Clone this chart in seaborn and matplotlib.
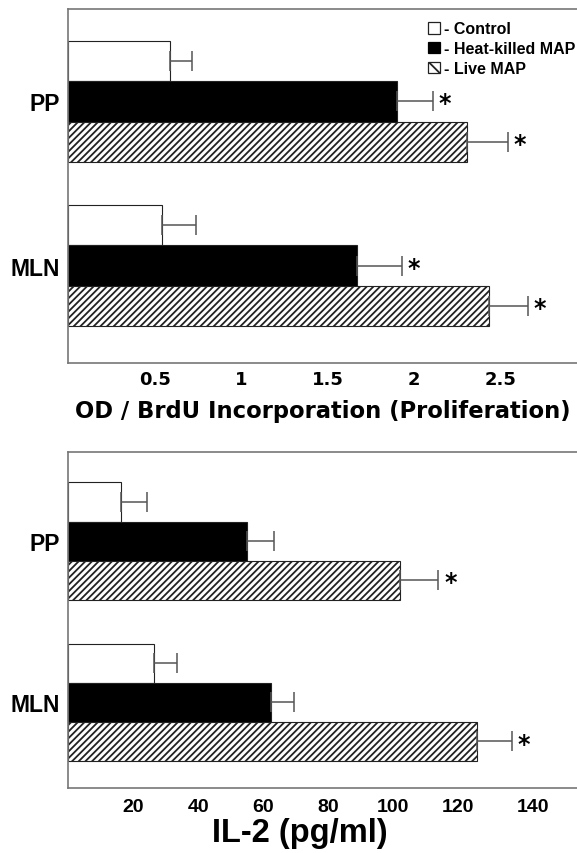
import numpy as np
import pandas as pd
import matplotlib
matplotlib.use("Agg")
import matplotlib.pyplot as plt
import seaborn as sns
from matplotlib.patches import Patch
from matplotlib.font_manager import FontProperties

# ---------------- data ----------------
tissues = ["PP", "MLN"]
treatments = ["Control", "Heat-killed MAP", "Live MAP"]
legend_labels = ["- Control", "- Heat-killed MAP", "- Live MAP"]

# Proliferation (OD / BrdU incorporation)
prolif_control = [0.59, 0.543]
prolif_heat = [1.90, 1.667]
prolif_live = [2.306, 2.43]
prolif_err_control = [0.124, 0.194]
prolif_err_heat = [0.206, 0.262]
prolif_err_live = [0.234, 0.226]
prolif_sig_control = [False, False]
prolif_sig_heat = [True, True]
prolif_sig_live = [True, True]
prolif_ticks = [0.5, 1, 1.5, 2, 2.5]
prolif_ticklabels = ["0.5", "1", "1.5", "2", "2.5"]

# IL-2 (pg/ml)
il2_control = [16.4, 26.3]
il2_heat = [55.1, 62.4]
il2_live = [102.0, 125.6]
il2_err_control = [7.9, 7.3]
il2_err_heat = [8.2, 7.1]
il2_err_live = [11.9, 10.8]
il2_sig_control = [False, False]
il2_sig_heat = [False, False]
il2_sig_live = [True, True]
il2_ticks = [20, 40, 60, 80, 100, 120, 143]
il2_ticklabels = ["20", "40", "60", "80", "100", "120", "140"]


def make_df(ctrl, heat, live):
    rows = []
    for vals, tr in zip([ctrl, heat, live], treatments):
        for t, v in zip(tissues, vals):
            rows.append({"tissue": t, "treatment": tr, "value": v})
    return pd.DataFrame(rows)


sns.set_style("white")
plt.rcParams["font.family"] = ["DejaVu Sans"]
plt.rcParams["hatch.linewidth"] = 1.3
plt.rcParams["text.color"] = "black"
plt.rcParams["axes.labelcolor"] = "black"
plt.rcParams["xtick.labelcolor"] = "black"
plt.rcParams["ytick.labelcolor"] = "black"

W, H = 577, 854
fig = plt.figure(figsize=(W / 100, H / 100), dpi=100)
ax1 = fig.add_axes([68 / W, (H - 364) / H, (W - 68) / W, (364 - 10) / H])
ax2 = fig.add_axes([68 / W, (H - 789.3) / H, (W - 68) / W, (789.3 - 452.7) / H])

arial_b = dict(family="Liberation Sans", weight="bold")
dejavu_b = dict(family="DejaVu Sans", weight="bold")


def panel(ax, df, errs, sigs, xlim, ylim, width, ticks, ticklabels, tickfont,
          ticklen, tickpad, xlabel, labelfont, label_xy):
    sns.barplot(data=df, x="value", y="tissue", hue="treatment",
                order=tissues, hue_order=treatments, orient="h",
                palette=["white", "black", "white"], saturation=1,
                width=width, edgecolor="#222222", linewidth=0.8,
                errorbar=None, legend=False, ax=ax)
    bar_containers = list(ax.containers)
    for i, cont in enumerate(bar_containers):
        for j, bar in enumerate(cont):
            if i == 2:
                bar.set_hatch("/////")
            y = bar.get_y() + bar.get_height() / 2
            x = bar.get_width()
            e = errs[i][j]
            ax.errorbar([x], [y], xerr=[[0], [e]], fmt="none", ecolor="#555555",
                        elinewidth=1.1, capsize=7.5, capthick=1.1, zorder=3)
            if sigs[i][j]:
                ax.annotate("*", xy=(x + e, y), xytext=(4, -6.5),
                            textcoords="offset points", ha="left", va="baseline",
                            fontsize=17, fontweight="bold", color="black")
    ax.set_xlim(*xlim)
    ax.set_ylim(*ylim)
    ax.set_xticks(ticks)
    ax.set_xticklabels(ticklabels, fontproperties=FontProperties(**tickfont))
    ax.tick_params(axis="x", direction="in", length=ticklen, width=1.0,
                   color="#777777", pad=tickpad, labelcolor="black")
    ax.tick_params(axis="y", length=0, pad=6, labelcolor="black")
    for lab in ax.get_yticklabels():
        lab.set_fontproperties(FontProperties(family="Liberation Sans", weight="bold", size=16.5))
    ax.set_ylabel("")
    ax.set_xlabel(xlabel, fontproperties=FontProperties(**labelfont), va="center",
                  color="black")
    ax.xaxis.set_label_coords(*label_xy)
    ax.spines["right"].set_visible(False)
    for s in ["left", "top", "bottom"]:
        ax.spines[s].set_color("#777777")
        ax.spines[s].set_linewidth(1.2)


panel(ax1, make_df(prolif_control, prolif_heat, prolif_live),
      [prolif_err_control, prolif_err_heat, prolif_err_live],
      [prolif_sig_control, prolif_sig_heat, prolif_sig_live],
      xlim=(0, 2.94), ylim=(1.593, -0.563), width=0.74,
      ticks=prolif_ticks, ticklabels=prolif_ticklabels,
      tickfont=dict(dejavu_b, size=13), ticklen=4, tickpad=5,
      xlabel="OD / BrdU Incorporation (Proliferation)",
      labelfont=dict(dejavu_b, size=16.3), label_xy=(0.5, -0.133))

panel(ax2, make_df(il2_control, il2_heat, il2_live),
      [il2_err_control, il2_err_heat, il2_err_live],
      [il2_sig_control, il2_sig_heat, il2_sig_live],
      xlim=(0, 156.5), ylim=(1.534, -0.556), width=0.73,
      ticks=il2_ticks, ticklabels=il2_ticklabels,
      tickfont=dict(arial_b, size=14), ticklen=6, tickpad=7,
      xlabel="IL-2 (pg/ml)",
      labelfont=dict(arial_b, size=23.5), label_xy=(0.456, -0.13))

handles = [Patch(facecolor="white", edgecolor="#222222", linewidth=0.9),
           Patch(facecolor="black", edgecolor="black", linewidth=0.9),
           Patch(facecolor="white", edgecolor="#222222", linewidth=0.9, hatch="\\\\")]
ax1.legend(handles, legend_labels, loc="upper left", bbox_to_anchor=(0.708, 0.965),
           frameon=False, prop=FontProperties(family="Liberation Sans", weight="bold", size=11.5),
           handlelength=0.7, handleheight=0.75, handletextpad=0.25, labelspacing=0.3,
           borderpad=0, borderaxespad=0)

fig.savefig("out.png", dpi=100)
